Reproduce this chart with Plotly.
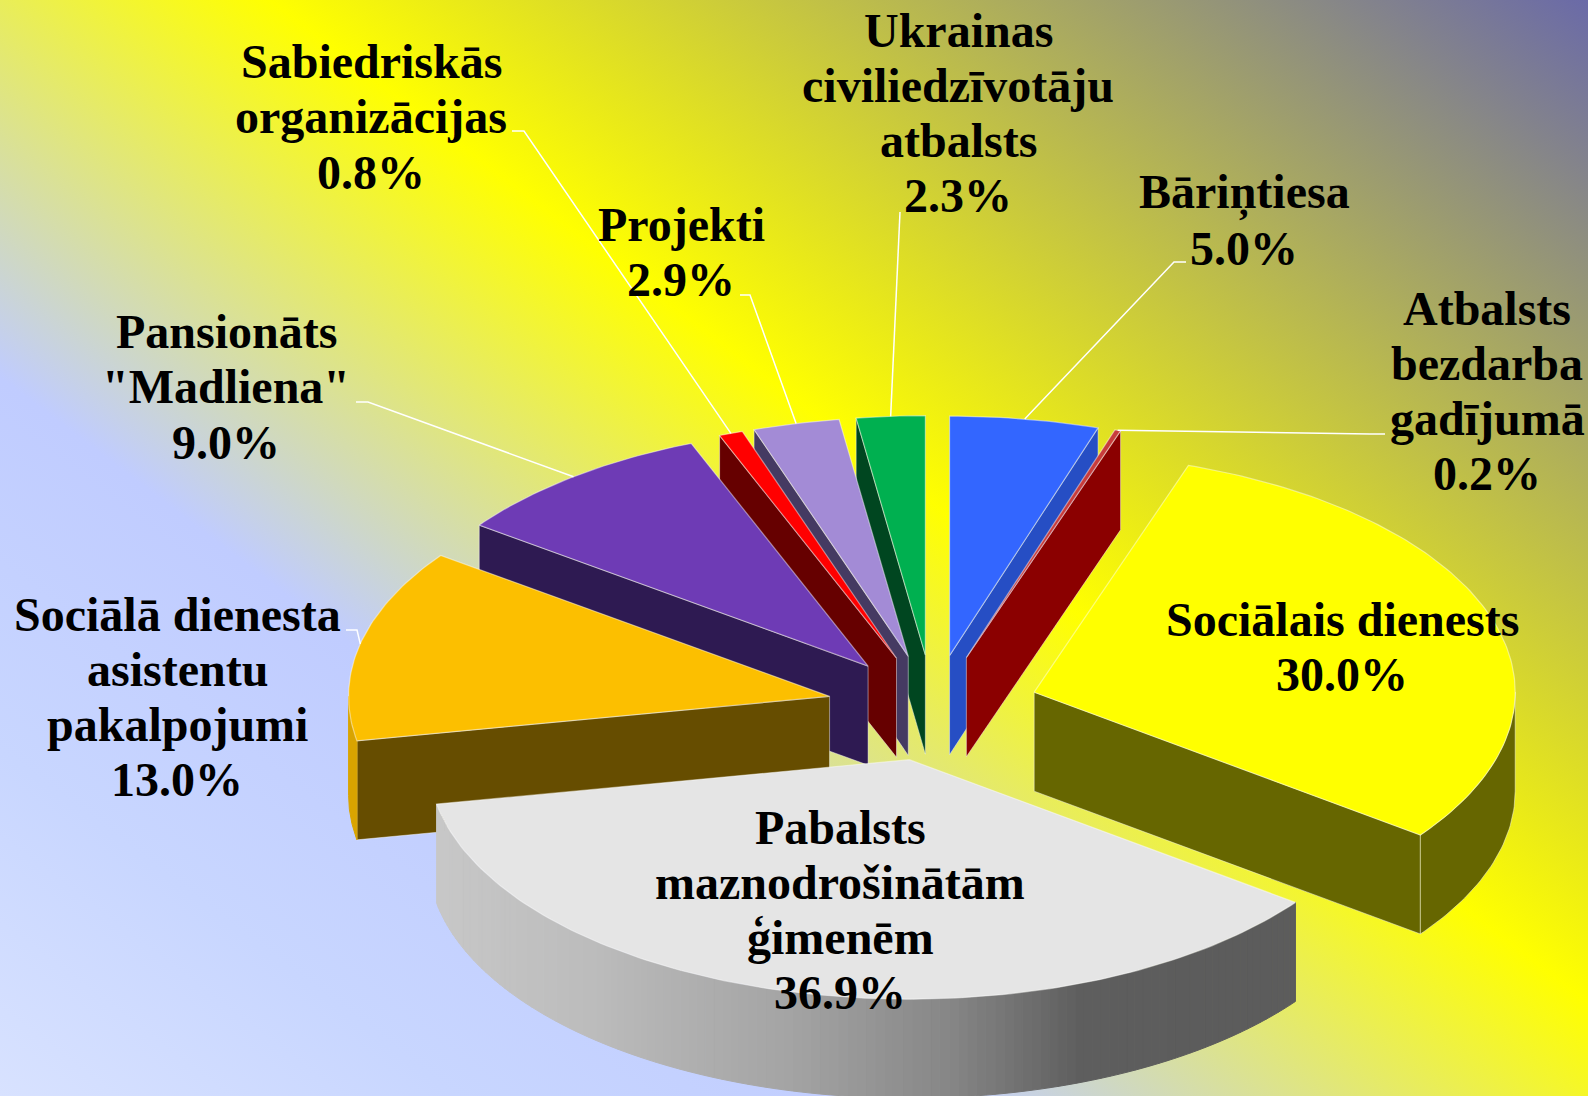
import base64
import math
import plotly.graph_objects as go

# ---- data ----
slice_names = ["Bāriņtiesa", "Atbalsts bezdarba gadījumā", "Sociālais dienests",
               "Pabalsts maznodrošinātām ģimenēm", "Sociālā dienesta asistentu pakalpojumi",
               "Pansionāts \"Madliena\"", "Sabiedriskās organizācijas", "Projekti",
               "Ukrainas civiliedzīvotāju atbalsts"]
slice_values = [5.0, 0.2, 30.0, 36.9, 13.0, 9.0, 0.8, 2.9, 2.3]
label_lines = [["Bāriņtiesa", "5.0%"],
               ["Atbalsts", "bezdarba", "gadījumā", "0.2%"],
               ["Sociālais dienests", "30.0%"],
               ["Pabalsts", "maznodrošinātām", "ģimenēm", "36.9%"],
               ["Sociālā dienesta", "asistentu", "pakalpojumi", "13.0%"],
               ["Pansionāts", "\"Madliena\"", "9.0%"],
               ["Sabiedriskās", "organizācijas", "0.8%"],
               ["Projekti", "2.9%"],
               ["Ukrainas", "civiliedzīvotāju", "atbalsts", "2.3%"]]

# ---- style / layout ----
top_colors = ["#3366ff", "#c83c3c", "#ffff00", "#e5e5e5", "#fcbf00", "#6e3bb5", "#ff0000", "#a38bd6", "#00b050"]
face_colors = ["#264ec4", "#8b0000", "#666600", "#808080", "#664d00", "#2e1a52", "#660000", "#453a62", "#004620"]
wall_colors = ["#264ec4", "#8b0000", "#666600", None, "#d9a400", "#2e1a52", "#660000", "#453a62", "#004620"]
paint_order = [0, 1, 8, 7, 6, 5, 4, 2, 3]
label_x = [1244, 1487, 1342, 840, 177, 226, 371, 681, 958]
label_y0 = [193, 308, 619, 827, 614, 331.5, 61.5, 224, 30]
line_gap = 55.3
font_size = 48
leader_elbows = {0: [(1186, 262), (1174, 262)], 1: [(1385, 434), (1370, 434)],
                 4: [(346, 630), (357, 630)], 5: [(356, 402), (368, 402)],
                 6: [(512, 131), (524, 131)], 7: [(740, 295), (750, 295)],
                 8: [(900, 212)]}
W, H = 1588, 1096
CX, CY = 933, 708
RX, RY = 481, 239.5
EX, EY = 106, 53
DEPTH = 99
EDGE = "rgba(255,255,255,0.45)"
GRAD_SLOPE = 0.76  # slope of the background's iso-colour lines

fig = go.Figure()


def poly(xs, ys, fill, line=None, width=1.0):
    fig.add_trace(go.Scatter(x=xs, y=ys, mode="lines", fill="toself", fillcolor=fill,
                             line=dict(color=line or fill, width=width), hoverinfo="skip", showlegend=False))


def shade_white(x):
    stops = [(430, 0xc8), (600, 0xbb), (800, 0xa2), (950, 0x86), (1080, 0x5e), (1200, 0x5c), (1300, 0x5c)]
    for (a, ca), (b, cb) in zip(stops, stops[1:]):
        if x <= b:
            t = max(0, (x - a) / (b - a))
            v = round(ca + (cb - ca) * t)
            return f"rgb({v},{v},{v})"
    return f"rgb({stops[-1][1]},{stops[-1][1]},{stops[-1][1]})"


total = sum(slice_values)
starts, ends = [], []
acc = 0.0
for v in slice_values:
    starts.append(acc / total * 2 * math.pi)
    acc += v
    ends.append(acc / total * 2 * math.pi)


def apex(i):
    m = (starts[i] + ends[i]) / 2
    return CX + EX * math.sin(m), CY - EY * math.cos(m)


def rim(i, a):
    ax, ay = apex(i)
    return ax + RX * math.sin(a), ay - RY * math.cos(a)


for i in paint_order:
    a, b = starts[i], ends[i]
    ax, ay = apex(i)
    # cut faces that look towards the viewer
    if math.sin(a) < 0:
        x1, y1 = rim(i, a)
        poly([ax, x1, x1, ax, ax], [ay, y1, y1 + DEPTH, ay + DEPTH, ay], face_colors[i], EDGE)
    if math.sin(b) > 0:
        x1, y1 = rim(i, b)
        poly([ax, x1, x1, ax, ax], [ay, y1, y1 + DEPTH, ay + DEPTH, ay], face_colors[i], EDGE)
    # outer wall
    lo, hi = max(a, math.pi / 2), min(b, 3 * math.pi / 2)
    if lo < hi:
        if wall_colors[i] is None:
            n = 120
            for k in range(n):
                t0, t1 = lo + (hi - lo) * k / n, lo + (hi - lo) * (k + 1) / n
                p0, p1 = rim(i, t0), rim(i, t1)
                c = shade_white((p0[0] + p1[0]) / 2)
                poly([p0[0], p1[0], p1[0], p0[0], p0[0]],
                     [p0[1], p1[1], p1[1] + DEPTH, p0[1] + DEPTH, p0[1]], c, c, 1.0)
        else:
            n = 40
            ts = [lo + (hi - lo) * k / n for k in range(n + 1)]
            pts = [rim(i, t) for t in ts]
            poly([p[0] for p in pts] + [p[0] for p in reversed(pts)] + [pts[0][0]],
                 [p[1] for p in pts] + [p[1] + DEPTH for p in reversed(pts)] + [pts[0][1]],
                 wall_colors[i], EDGE if i != 4 else wall_colors[i])
    # top
    n = max(4, int((b - a) * 60))
    ts = [a + (b - a) * k / n for k in range(n + 1)]
    pts = [rim(i, t) for t in ts]
    poly([ax] + [p[0] for p in pts] + [ax], [ay] + [p[1] for p in pts] + [ay], top_colors[i], EDGE, 1.2)

# leader lines
for i, elbow in leader_elbows.items():
    m = (starts[i] + ends[i]) / 2
    ex, ey = rim(i, m)
    xs = [p[0] for p in elbow] + [ex]
    ys = [p[1] for p in elbow] + [ey]
    fig.add_trace(go.Scatter(x=xs, y=ys, mode="lines", line=dict(color="white", width=1.5),
                             hoverinfo="skip", showlegend=False))

annotations = []
for i, lines in enumerate(label_lines):
    for k, s in enumerate(lines):
        annotations.append(dict(x=label_x[i], y=label_y0[i] + k * line_gap, text=f"<b>{s}</b>", showarrow=False,
                                xref="x", yref="y", xanchor="center", yanchor="middle",
                                font=dict(family="Liberation Serif", size=font_size, color="black")))

# background gradient: runs from the top right corner towards the bottom left one
nlen = math.hypot(GRAD_SLOPE, 1)
nx, ny = -GRAD_SLOPE / nlen, 1 / nlen
span = (-W) * nx + H * ny
gx2, gy2 = W + nx * span, ny * span
svg = f'''<svg xmlns="http://www.w3.org/2000/svg" width="{W}" height="{H}" preserveAspectRatio="none">
<defs><linearGradient id="g" gradientUnits="userSpaceOnUse" x1="{W}" y1="0" x2="{gx2:.1f}" y2="{gy2:.1f}">
<stop offset="0" stop-color="#6a6aa8"/><stop offset="0.435" stop-color="#ffff00"/>
<stop offset="0.688" stop-color="#c0ccff"/><stop offset="0.85" stop-color="#c8d6ff"/>
<stop offset="1" stop-color="#d8e2ff"/></linearGradient></defs>
<rect width="{W}" height="{H}" fill="url(#g)"/></svg>'''
src = "data:image/svg+xml;base64," + base64.b64encode(svg.encode()).decode()

fig.update_layout(
    width=W, height=H, margin=dict(l=0, r=0, t=0, b=0), autosize=False,
    paper_bgcolor="white", plot_bgcolor="rgba(0,0,0,0)", showlegend=False,
    xaxis=dict(range=[0, W], visible=False, fixedrange=True),
    yaxis=dict(range=[H, 0], visible=False, fixedrange=True),
    annotations=annotations,
    images=[dict(source=src, xref="paper", yref="paper", x=0, y=1, sizex=1, sizey=1,
                 sizing="stretch", layer="below", xanchor="left", yanchor="top")],
)
fig.write_html("out.html", config=dict(displayModeBar=False),
               post_script="document.body.style.margin='0';document.body.style.overflow='hidden';")
